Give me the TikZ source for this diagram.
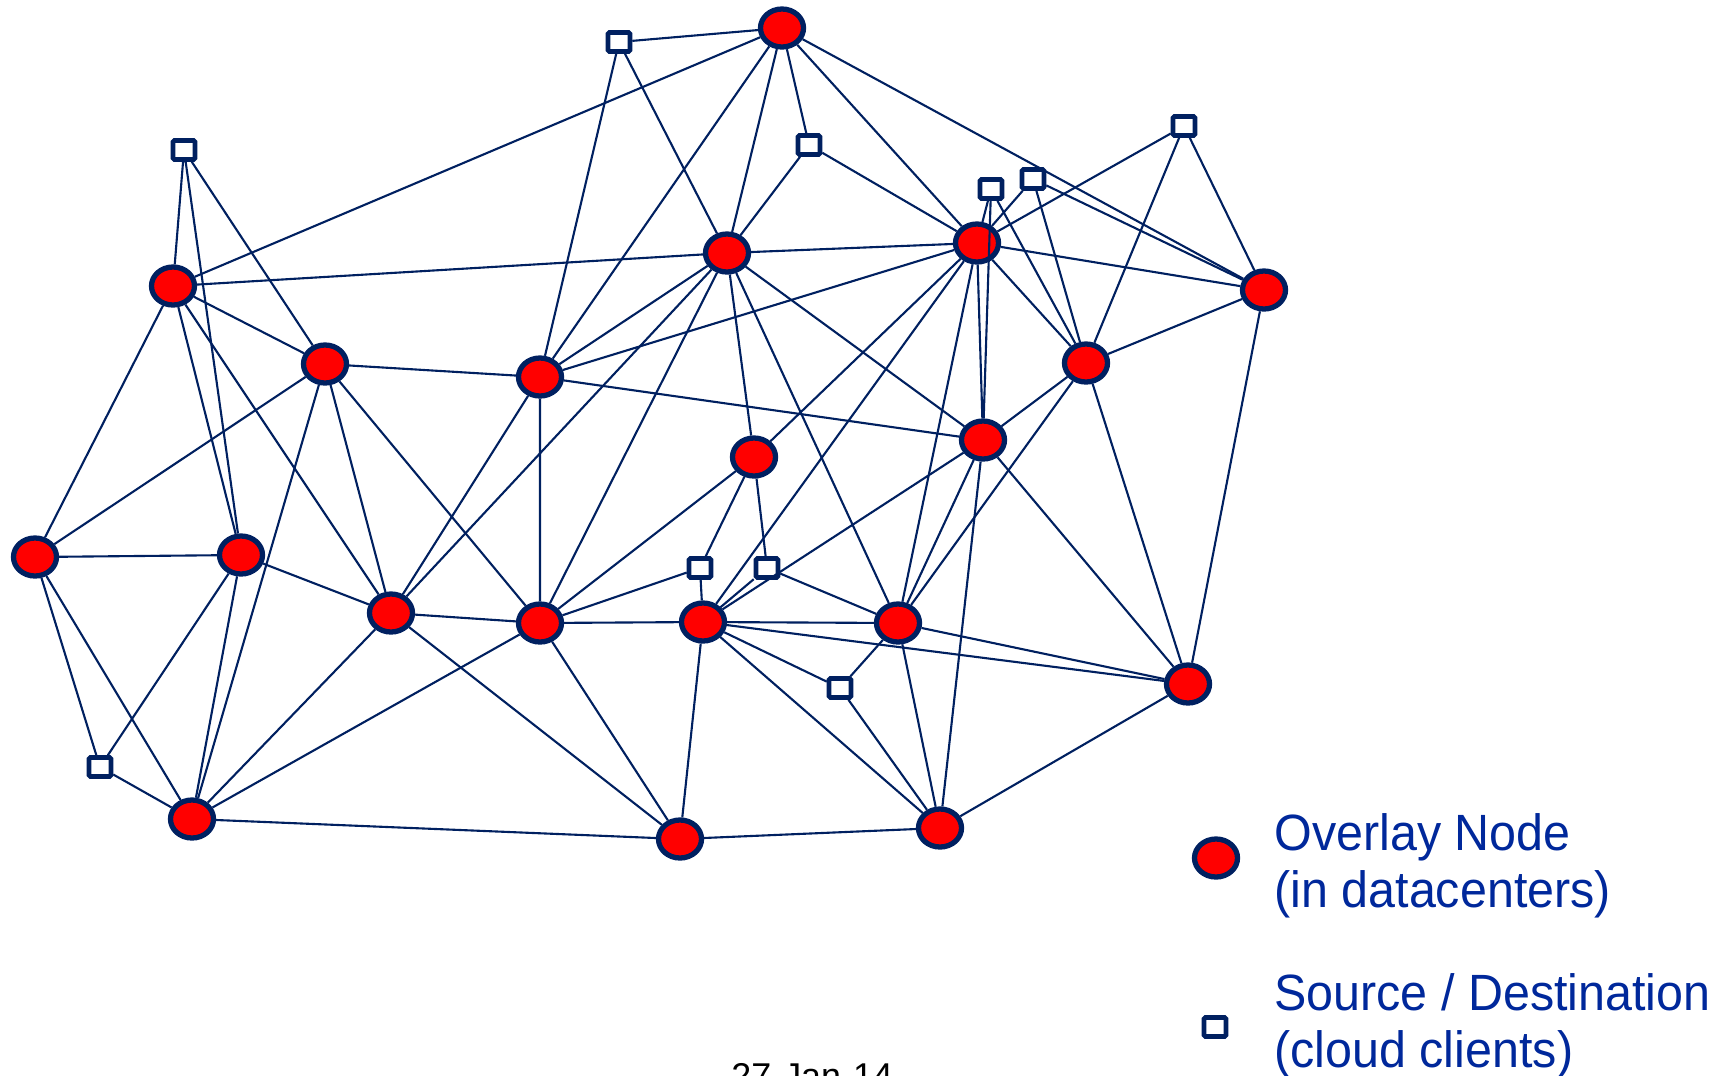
\documentclass[tikz,border=0pt]{standalone}
\usepackage{fontspec}
\setmainfont{Liberation Sans}
\newfontfamily\legendfont[FakeStretch=0.95]{Liberation Sans}
\usetikzlibrary{shapes.geometric}
\definecolor{linkblue}{RGB}{0,32,96}
\definecolor{legendblue}{RGB}{0,40,155}
\tikzset{dcnode/.style={ellipse,draw=linkblue,fill=red,line width=1.5pt,minimum width=0.43cm,minimum height=0.38cm,inner sep=0pt}}
\tikzset{clnode/.style={rectangle,rounded corners=0.4pt,draw=linkblue,fill=white,line width=1.3pt,minimum width=0.22cm,minimum height=0.19cm,inner sep=0pt}}
\tikzset{wire/.style={draw=linkblue,line width=0.6pt}}
\tikzset{keytext/.style={anchor=base west,text=legendblue,font=\legendfont\fontsize{14.5}{16}\selectfont}}

\begin{document}
\begin{tikzpicture}[x=0.01cm,y=-0.01cm]
\useasboundingbox (0,0) rectangle (1718,1075);
% datacenter nodes
\node[dcnode] (dc1) at (782,28) {};
\node[dcnode] (dc2) at (173,286) {};
\node[dcnode] (dc3) at (727,253) {};
\node[dcnode] (dc4) at (977,243) {};
\node[dcnode] (dc5) at (1264,290) {};
\node[dcnode] (dc6) at (325,364) {};
\node[dcnode] (dc7) at (540,377) {};
\node[dcnode] (dc8) at (1086,363) {};
\node[dcnode] (dc9) at (754,457) {};
\node[dcnode] (dc10) at (983,440) {};
\node[dcnode] (dc11) at (35,557) {};
\node[dcnode] (dc12) at (241,555) {};
\node[dcnode] (dc13) at (391,613) {};
\node[dcnode] (dc14) at (540,623) {};
\node[dcnode] (dc15) at (703,622) {};
\node[dcnode] (dc16) at (898,623) {};
\node[dcnode] (dc17) at (1188,684) {};
\node[dcnode] (dc18) at (192,819) {};
\node[dcnode] (dc19) at (680,839) {};
\node[dcnode] (dc20) at (940,828) {};
% clients
\node[clnode] (cl1) at (619,42) {};
\node[clnode] (cl2) at (184,150) {};
\node[clnode] (cl3) at (809,145) {};
\node[clnode] (cl4) at (1184,126) {};
\node[clnode] (cl5) at (991,189) {};
\node[clnode] (cl6) at (1033,179) {};
\node[clnode] (cl7) at (700,568) {};
\node[clnode] (cl8) at (767,568) {};
\node[clnode] (cl9) at (840,688) {};
\node[clnode] (cl10) at (100,767) {};
% links
\draw[wire] (dc1) -- (cl1) (dc1) -- (dc2) (dc1) -- (dc7) (dc1) -- (dc3) (dc1) -- (cl3) (dc1) -- (dc4) (dc1) -- (dc5);
\draw[wire] (cl1) -- (dc7) (cl1) -- (dc3);
\draw[wire] (cl2) -- (dc2) (cl2) -- (dc12) (cl2) -- (dc6);
\draw[wire] (dc2) -- (dc3) (dc2) -- (dc6) (dc2) -- (dc13) (dc2) -- (dc12) (dc2) -- (dc11);
\draw[wire] (dc3) -- (cl3) (dc3) -- (dc4) (dc3) -- (dc7) (dc3) -- (dc13) (dc3) -- (dc14) (dc3) -- (dc9) (dc3) -- (dc10) (dc3) -- (dc16);
\draw[wire] (cl3) -- (dc4);
\draw[wire] (dc4) -- (dc7) (dc4) -- (cl4) (dc4) -- (cl5) (dc4) -- (cl6) (dc4) -- (dc5) (dc4) -- (dc8) (dc4) -- (dc10) (dc4) -- (dc9) (dc4) -- (dc15) (dc4) -- (dc16);
\draw[wire] (cl4) -- (dc8) (cl4) -- (dc5);
\draw[wire] (cl5) -- (dc8) (cl5) -- (dc10);
\draw[wire] (cl6) -- (dc8) (cl6) -- (dc5);
\draw[wire] (dc5) -- (dc8) (dc5) -- (dc17);
\draw[wire] (dc8) -- (dc10) (dc8) -- (dc16) (dc8) -- (dc17);
\draw[wire] (dc10) -- (dc7) (dc10) -- (dc15) (dc10) -- (dc16) (dc10) -- (dc17) (dc10) -- (dc20);
\draw[wire] (dc9) -- (dc14) (dc9) -- (cl7) (dc9) -- (cl8);
\draw[wire] (dc11) -- (dc6) (dc11) -- (dc12) (dc11) -- (cl10) (dc11) -- (dc18);
\draw[wire] (dc12) -- (dc13) (dc12) -- (cl10) (dc12) -- (dc18);
\draw[wire] (dc6) -- (dc7) (dc6) -- (dc13) (dc6) -- (dc14) (dc6) -- (dc18);
\draw[wire] (dc7) -- (dc13) (dc7) -- (dc14);
\draw[wire] (dc13) -- (dc14) (dc13) -- (dc18) (dc13) -- (dc19);
\draw[wire] (dc14) -- (dc15) (dc14) -- (cl7) (dc14) -- (dc18) (dc14) -- (dc19);
\draw[wire] (dc15) -- (cl7) (dc15) -- (cl8) (dc15) -- (dc16) (dc15) -- (dc17) (dc15) -- (cl9) (dc15) -- (dc20) (dc15) -- (dc19);
\draw[wire] (cl8) -- (dc16);
\draw[wire] (dc16) -- (cl9) (dc16) -- (dc17) (dc16) -- (dc20);
\draw[wire] (dc17) -- (dc20);
\draw[wire] (dc18) -- (cl10) (dc18) -- (dc19);
\draw[wire] (dc19) -- (dc20);
\draw[wire] (cl9) -- (dc20);
% legend
\node[dcnode] (keydc) at (1216,858) {};
\node[clnode] (keycl) at (1215,1027) {};
\node[keytext] (keydca) at (1262,850) {Overlay Node};
\node[keytext] (keydcb) at (1262,907) {(in datacenters)};
\node[keytext] (keycla) at (1262,1010) {Source / Destination};
\node[keytext] (keyclb) at (1262,1067) {(cloud clients)};
\node[anchor=base west,font=\fontsize{10.2}{12}\selectfont] (date) at (719,1088) {27-Jan-14};
\end{tikzpicture}
\end{document}
